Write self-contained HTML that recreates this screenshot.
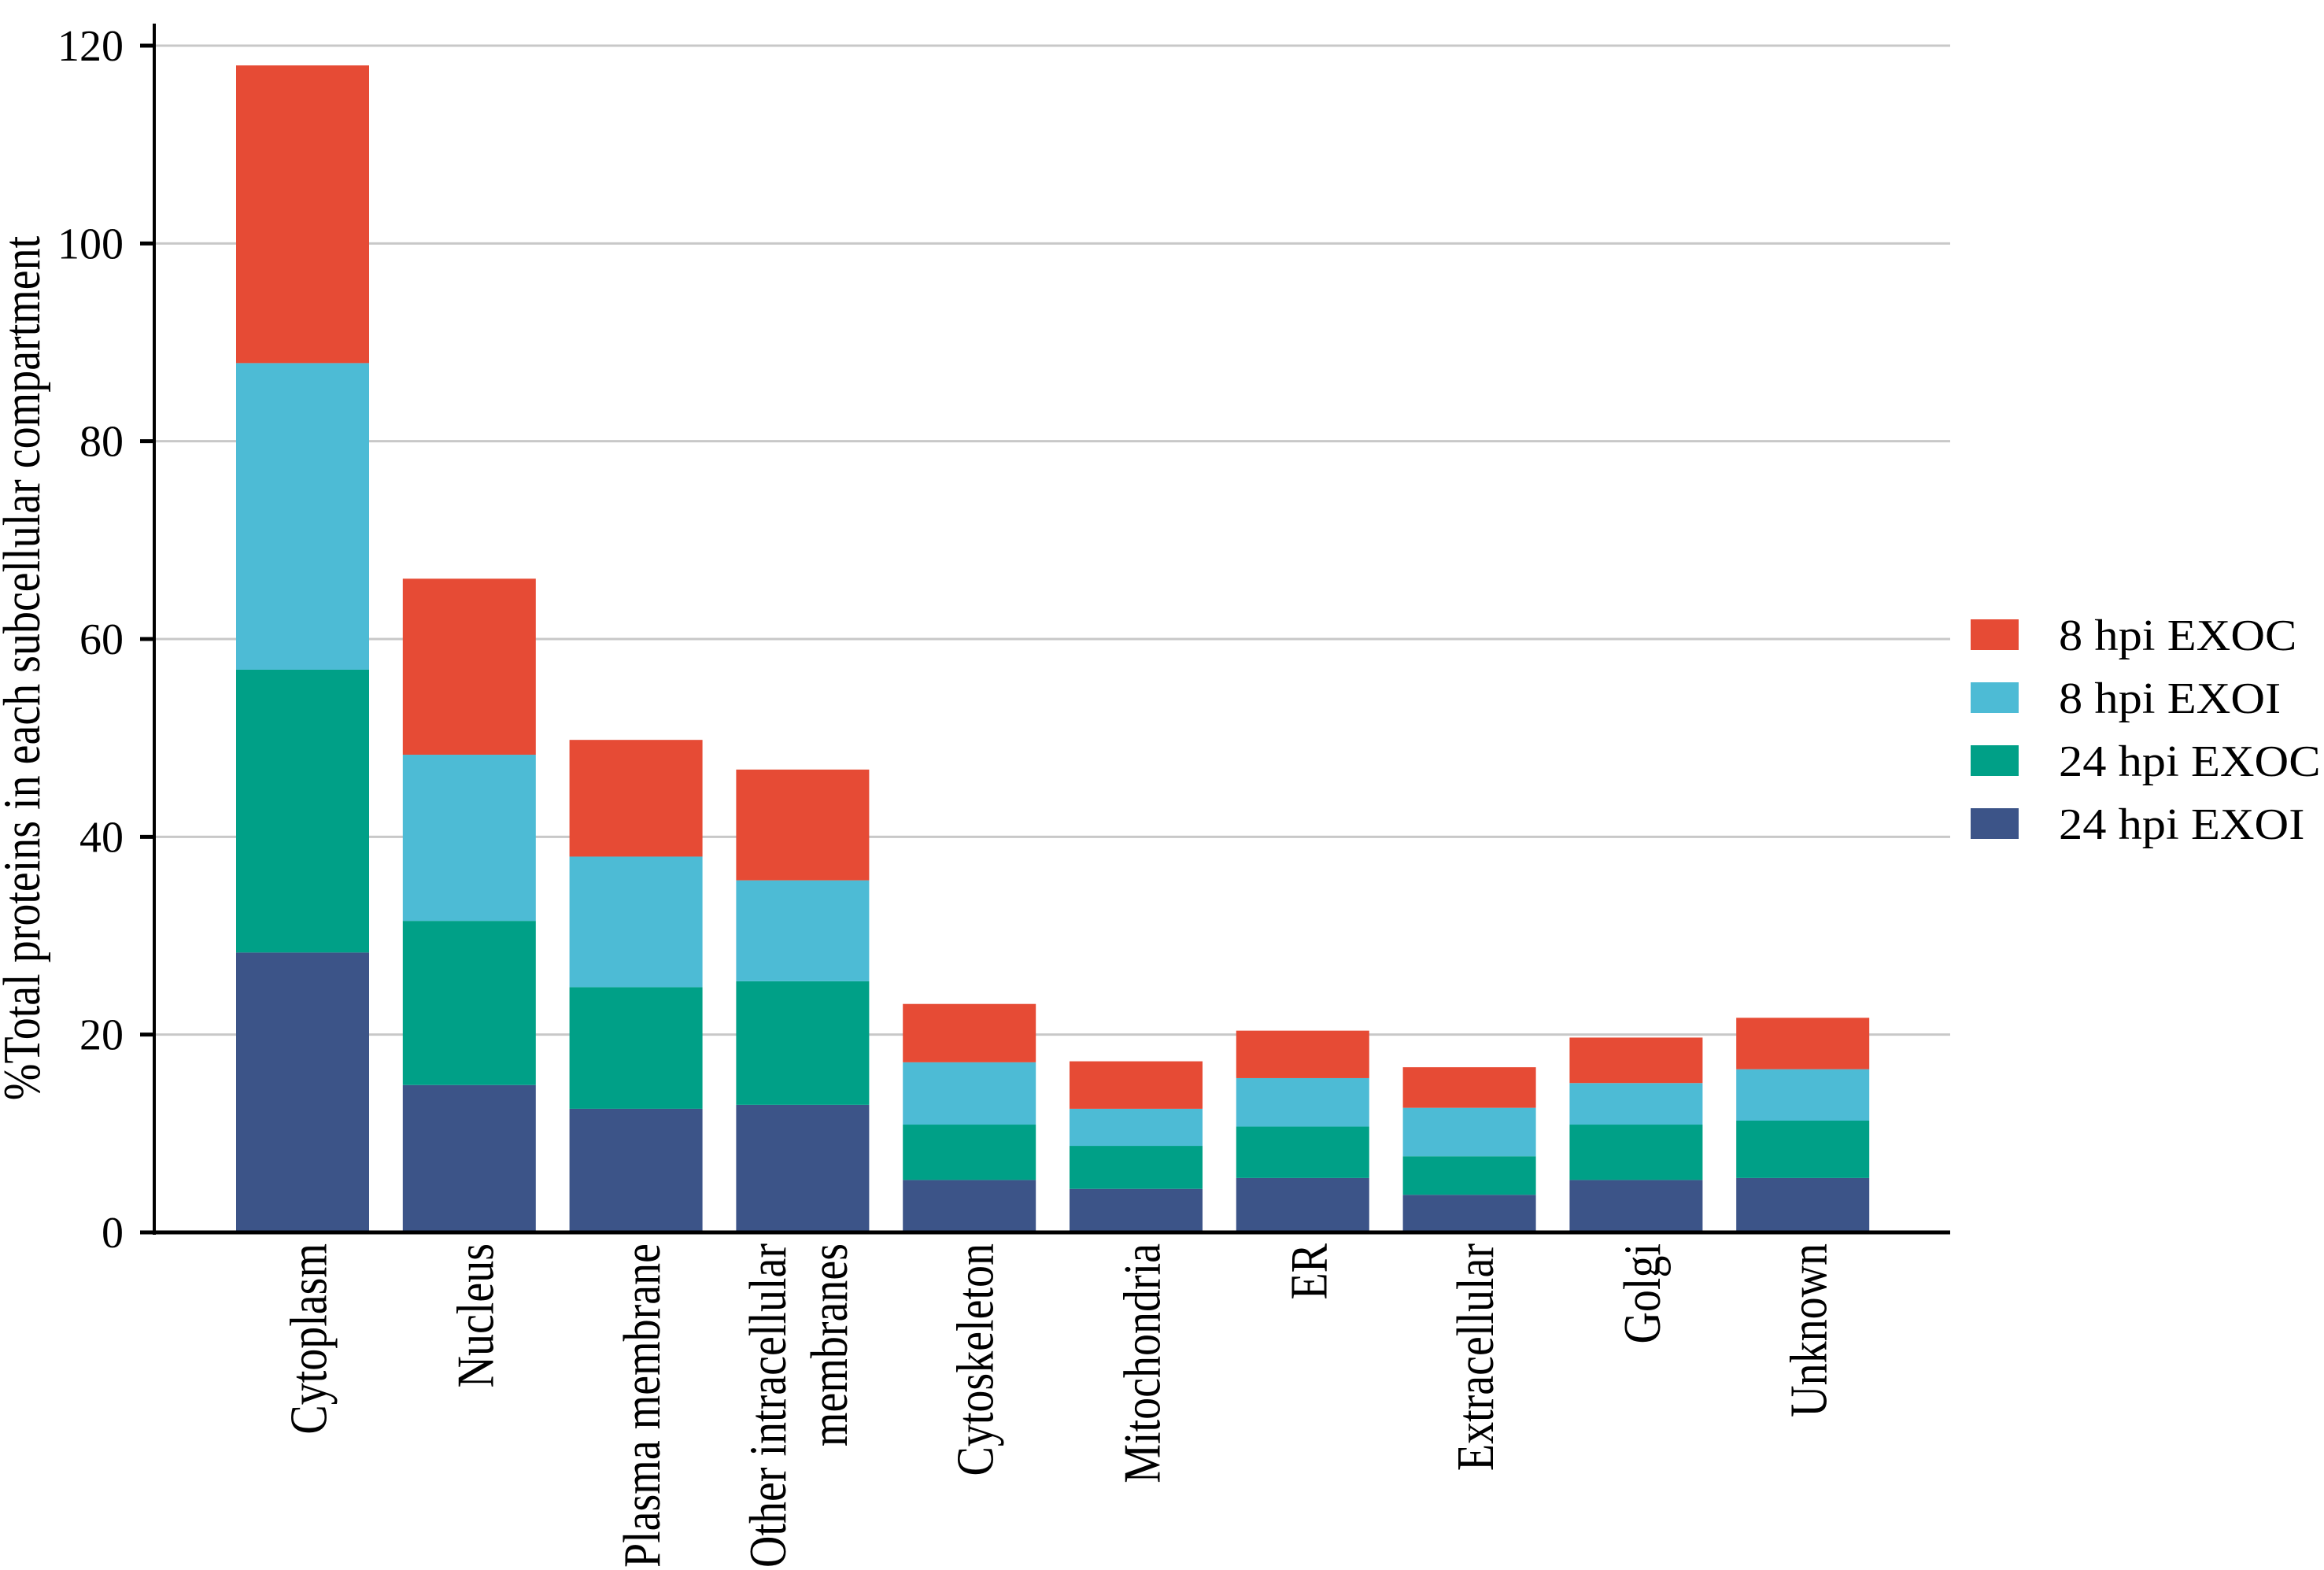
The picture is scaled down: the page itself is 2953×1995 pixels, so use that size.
<!DOCTYPE html>
<html><head><meta charset="utf-8"><style>
html,body{margin:0;padding:0;background:#fff;}
svg{display:block;font-family:"Liberation Serif",serif;}
</style></head><body>
<svg id="chart" width="2953" height="1995" viewBox="0 0 2953 1995" xmlns="http://www.w3.org/2000/svg">
<g id="grid"></g>
<g id="bars"></g>
<g id="axes"></g>
<text x="0" y="0" transform="translate(50,849) scale(1.2,1) rotate(-90)" text-anchor="middle" font-size="56" fill="#000">%Total proteins in each subcellular compartment</text>
<g id="legend"></g>
</svg>
<script>
const categories = [["Cytoplasm"],["Nucleus"],["Plasma membrane"],["Other intracellular","membranes"],["Cytoskeleton"],["Mitochondria"],["ER"],["Extracellular"],["Golgi"],["Unknown"]];
const s24EXOI = [28.3,14.9,12.5,12.9,5.3,4.4,5.5,3.8,5.3,5.5];
const s24EXOC = [28.6,16.6,12.3,12.5,5.6,4.35,5.2,3.9,5.6,5.8];
const s8EXOI  = [31.0,16.8,13.2,10.2,6.3,3.75,4.9,4.9,4.2,5.2];
const s8EXOC  = [30.1,17.8,11.8,11.2,5.9,4.8,4.8,4.1,4.6,5.2];
const yTicks = [0,20,40,60,80,100,120];
const seriesNames = ["24 hpi EXOI","24 hpi EXOC","8 hpi EXOI","8 hpi EXOC"];
const seriesColors = ["#3C5488","#00A087","#4DBBD5","#E64B35"];

const NS="http://www.w3.org/2000/svg";
const X0=196, XR=2478, Y0=1566, YTOP=58, YMAX=120;
const step=211.8, bw=169, firstX=300;
function yScale(v){return Y0-(v/YMAX)*(Y0-YTOP);}
function xScale(i){return firstX+i*step;}
function mk(tag,attrs,parent){const e=document.createElementNS(NS,tag);for(const k in attrs)e.setAttribute(k,attrs[k]);parent.appendChild(e);return e;}
const grid=document.getElementById('grid'),bars=document.getElementById('bars'),axes=document.getElementById('axes'),legend=document.getElementById('legend');

yTicks.forEach(t=>{
  if(t>0){const g=mk('line',{x1:X0,x2:XR,y1:yScale(t),y2:yScale(t),stroke:'#c8c8c8','stroke-width':3},grid);
  
  }
  const tk=mk('line',{x1:X0-18,x2:X0,y1:yScale(t),y2:yScale(t),stroke:'#000','stroke-width':5},axes);
  
  
  const lb=mk('text',{x:157,y:yScale(t)+19,'text-anchor':'end','font-size':56,fill:'#000'},axes);
  lb.textContent=t;
  
  
});

const series=[s24EXOI,s24EXOC,s8EXOI,s8EXOC];
categories.forEach((c,i)=>{
  let cum=0;
  series.forEach((s,k)=>{
    const y1=yScale(cum), y2=yScale(cum+s[i]);
    const r=mk('rect',{x:xScale(i),y:y2,width:bw,height:y1-y2,fill:seriesColors[k]},bars);
    
    
    cum+=s[i];
  });
  const cx=xScale(i)+bw/2;
  const n=c.length;
  c.forEach((line,j)=>{
    const off=n===1?30:(j===0?-22:56);
    const t=mk('text',{x:0,y:0,transform:`translate(${cx+off},1580) scale(1.2,1) rotate(-90)`,'text-anchor':'end','font-size':56,fill:'#000'},axes);
    t.textContent=line;
    
    
  });
});
const ya=mk('line',{x1:X0,x2:X0,y1:30,y2:Y0+3,stroke:'#000','stroke-width':4},axes);


const xa=mk('line',{x1:X0-18,x2:XR,y1:Y0,y2:Y0,stroke:'#000','stroke-width':5},axes);



[3,2,1,0].forEach((k,r)=>{
  const y=787+r*80;
  const sw=mk('rect',{x:2504,y:y,width:61,height:39,fill:seriesColors[k]},legend);
  
  
  const t=mk('text',{x:0,y:0,transform:`translate(2616,${y+39}) scale(1.08,1)`,'font-size':56,fill:'#000'},legend);
  t.textContent=seriesNames[k];
  
  
});
</script>
</body></html>
